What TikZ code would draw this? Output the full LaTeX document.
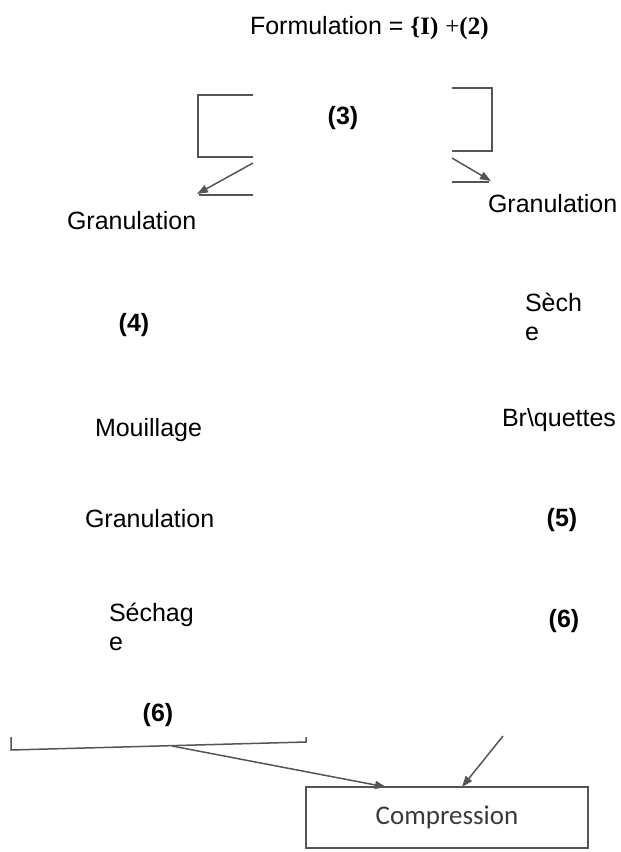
\documentclass[tikz,border=0pt]{standalone}
\usepackage{fontspec}
\setmainfont{Liberation Sans}
\newfontfamily\serifbold{Liberation Serif}
\newfontfamily\calib{Carlito}
\usetikzlibrary{arrows.meta}
\definecolor{inkline}{HTML}{555555}
\definecolor{inktext}{HTML}{3A3A3A}
\tikzset{
  lbl/.style={inner sep=0pt, outer sep=0pt, font=\fontsize{25}{29}\selectfont},
  blbl/.style={lbl, font=\fontsize{25}{29}\selectfont\bfseries},
  ln/.style={draw=inkline, line width=1.5pt},
  arr/.style={ln, -{Triangle[length=11pt,width=8pt]}},
  compbox/.style={draw=inkline, line width=1.5pt, minimum width=282pt, minimum height=61pt, inner sep=0pt,
     font=\calib\fontsize{27}{30}\selectfont, text=inktext}
}
\begin{document}
\begin{tikzpicture}[x=1pt,y=-1pt]
\useasboundingbox (0,0) rectangle (621,852);
% title
\node[lbl, anchor=base west] (title) at (250,34) {Formulation {=} {\serifbold\bfseries\{I)} {\serifbold +}{\serifbold\bfseries(2)}};
% (3)
\node[blbl, anchor=base] (n3) at (343,124) {(3)};
% left top bracket
\coordinate (lt1) at (253,95);
\coordinate (lt2) at (198,95);
\coordinate (lt3) at (198,157);
\coordinate (lt4) at (253,157);
\coordinate (la1) at (253,163);
\coordinate (la2) at (197,194);
\coordinate (lb1) at (199,195);
\coordinate (lb2) at (253,195);
\draw[ln] (lt1) -- (lt2) -- (lt3) -- (lt4);
\draw[arr] (la1) -- (la2);
\draw[ln] (lb1) -- (lb2);
% right top bracket
\coordinate (rt1) at (452,88);
\coordinate (rt2) at (492,88);
\coordinate (rt3) at (492,151);
\coordinate (rt4) at (452,151);
\coordinate (ra1) at (452,158);
\coordinate (ra2) at (491,181);
\coordinate (rb1) at (452,182);
\coordinate (rb2) at (489,182);
\draw[ln] (rt1) -- (rt2) -- (rt3) -- (rt4);
\draw[arr] (ra1) -- (ra2);
\draw[ln] (rb1) -- (rb2);
% left column
\node[lbl, anchor=base west] (g1) at (67,229) {Granulation};
\node[blbl, anchor=base] (n4) at (134,331) {(4)};
\node[lbl, anchor=base west] (mou) at (95,436) {Mouillage};
\node[lbl, anchor=base west] (g3) at (85,527) {Granulation};
\node[lbl, anchor=west, align=left] (sech) at (109,627) {Séchag\\e};
\node[blbl, anchor=base] (n6a) at (158,721) {(6)};
% right column
\node[lbl, anchor=base west] (g2) at (488,212) {Granulation};
\node[lbl, anchor=west, align=left] (seche) at (525,317) {Sèch\\e};
\node[lbl, anchor=base west] (briq) at (502,426) {Br\textbackslash quettes};
\node[blbl, anchor=base] (n5) at (562,526) {(5)};
\node[blbl, anchor=base] (n6b) at (564,627) {(6)};
% bottom
\coordinate (bb1) at (11,737);
\coordinate (bb2) at (11,750);
\coordinate (bb3) at (306,742);
\coordinate (bb4) at (306,737);
\draw[ln] (bb1) -- (bb2) -- (bb3) -- (bb4);
\node[compbox] (comp) at (447,817.5) {Compression};
\coordinate (a1s) at (172,746);
\coordinate (a1e) at (386,787);
\coordinate (a2s) at (503,736);
\coordinate (a2e) at (462,787);
\draw[arr] (a1s) -- (a1e);
\draw[arr] (a2s) -- (a2e);
\end{tikzpicture}
\end{document}
